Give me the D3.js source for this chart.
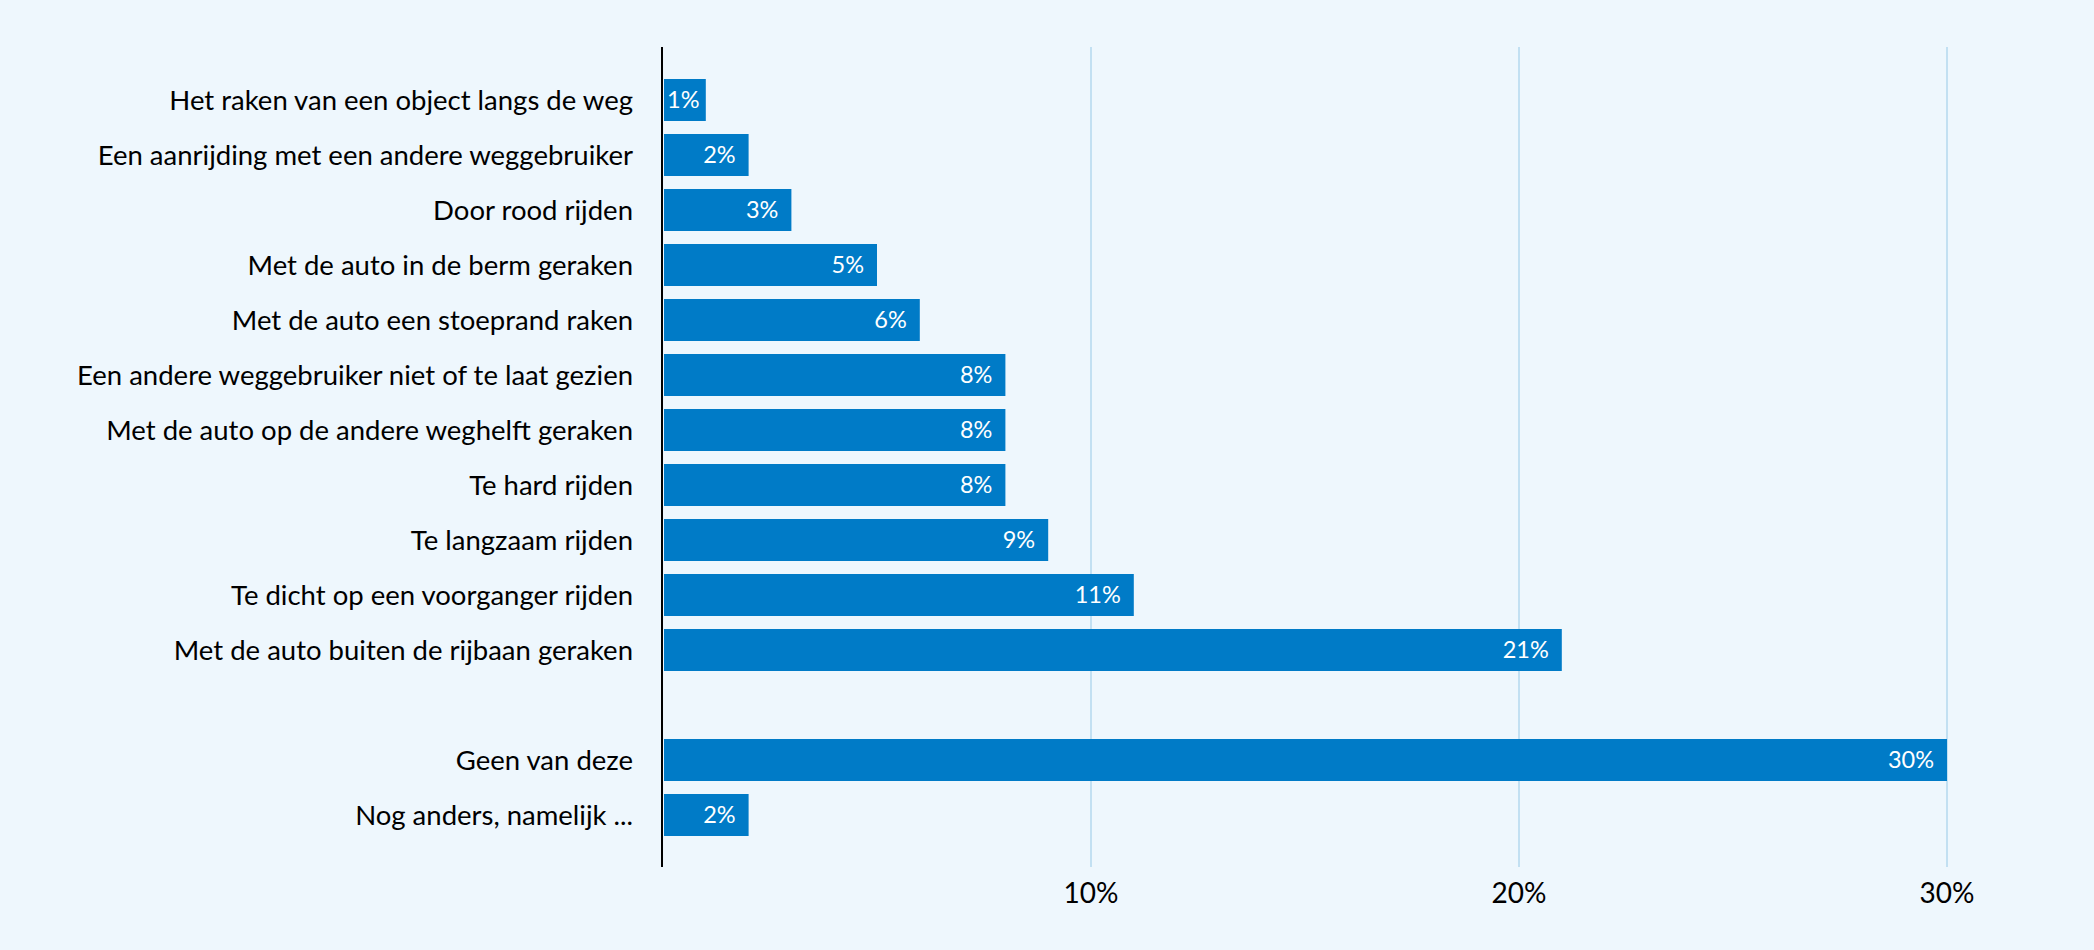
<!DOCTYPE html>
<html>
<head>
<meta charset="utf-8">
<script src="https://cdn.jsdelivr.net/npm/d3@7"></script>
<style>
  html, body { margin: 0; padding: 0; background: #eef7fd; }
  svg { display: block; font-family: Lato, "Open Sans", sans-serif; }
</style>
</head>
<body>
<div id="chart"></div>
<script>
const width = 2094;
const height = 950;

// categories, top to bottom ("" = empty row between the groups)
const categories = [
    "Het raken van een object langs de weg",
    "Een aanrijding met een andere weggebruiker",
    "Door rood rijden",
    "Met de auto in de berm geraken",
    "Met de auto een stoeprand raken",
    "Een andere weggebruiker niet of te laat gezien",
    "Met de auto op de andere weghelft geraken",
    "Te hard rijden",
    "Te langzaam rijden",
    "Te dicht op een voorganger rijden",
    "Met de auto buiten de rijbaan geraken",
    "",
    "Geen van deze",
    "Nog anders, namelijk ..."
];
const values = [1, 2, 3, 5, 6, 8, 8, 8, 9, 11, 21, null, 30, 2];
const ticks = [10, 20, 30];

const svg = d3.select("#chart")
    .append("svg")
    .attr("width", width)
    .attr("height", height);

svg.append("rect")
    .attr("width", width)
    .attr("height", height)
    .attr("fill", "#eef7fd");

const x = d3.scaleLinear()
    .domain([0, 30])
    .range([663, 1947]);

const y = d3.scaleBand()
    .domain(d3.range(categories.length))
    .range([72.5, 842.5])
    .paddingInner(13 / 55)
    .paddingOuter(6.5 / 55);

const gridTop = 47;
const gridBottom = 867;

// gridlines
svg.append("g")
    .selectAll("line")
    .data(ticks)
    .join("line")
    .attr("x1", d => x(d))
    .attr("x2", d => x(d))
    .attr("y1", gridTop)
    .attr("y2", gridBottom)
    .attr("stroke", "#b3d8ee")
    .attr("stroke-width", 1.5);

// tick labels
svg.append("g")
    .selectAll("text")
    .data(ticks)
    .join("text")
    .attr("x", d => x(d))
    .attr("y", 903)
    .attr("text-anchor", "middle")
    .attr("font-size", 28)
    .attr("fill", "#000")
    .text(d => d + "%");

const rows = categories.map((c, i) => ({ name: c, value: values[i], i }));
const bars = rows.filter(d => d.value != null);

// bars
svg.append("g")
    .selectAll("rect")
    .data(bars)
    .join("rect")
    .attr("x", x(0) + 1)
    .attr("y", d => y(d.i))
    .attr("width", d => x(d.value) - x(0) - 1)
    .attr("height", y.bandwidth())
    .attr("fill", "#007bc7");

// category labels
svg.append("g")
    .selectAll("text")
    .data(rows.filter(d => d.name))
    .join("text")
    .attr("x", 633)
    .attr("y", d => y(d.i) + y.bandwidth() / 2)
    .attr("dy", "0.35em")
    .attr("text-anchor", "end")
    .attr("font-size", 27.5)
    .attr("fill", "#000")
    .text(d => d.name);

// value labels inside the bars
svg.append("g")
    .selectAll("text")
    .data(bars)
    .join("text")
    .attr("y", d => y(d.i) + y.bandwidth() / 2)
    .attr("dy", "0.36em")
    .attr("text-anchor", "end")
    .attr("font-size", 23.5)
    .attr("fill", "#fff")
    .text(d => d.value + "%")
    .attr("x", function (d) {
        const w = this.getComputedTextLength();
        return Math.max(x(d.value) - 13, x(0) + 4 + w);
    });

// y axis line
svg.append("line")
    .attr("x1", x(0) - 1)
    .attr("x2", x(0) - 1)
    .attr("y1", gridTop)
    .attr("y2", gridBottom)
    .attr("stroke", "#000")
    .attr("stroke-width", 2);
</script>
</body>
</html>
